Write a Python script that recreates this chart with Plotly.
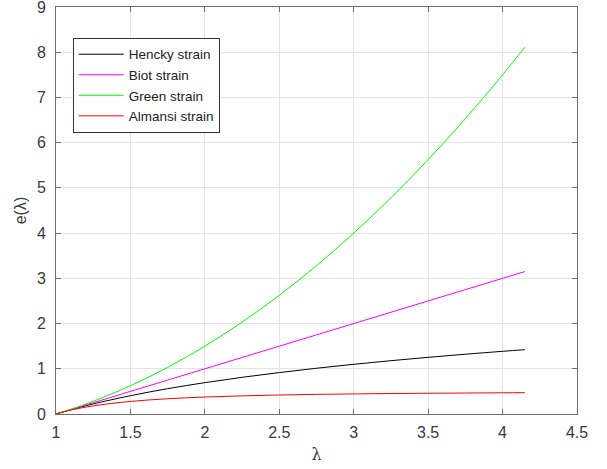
import plotly.graph_objects as go

lam = [1.0, 1.1, 1.25, 1.5, 1.75, 2.0, 2.25, 2.5, 2.75, 3.0, 3.25, 3.5, 3.75, 4.0, 4.15]
hencky = [0, 0.095, 0.223, 0.405, 0.560, 0.693, 0.811, 0.916, 1.012, 1.099, 1.179, 1.253, 1.322, 1.386, 1.423]
biot = [0, 0.10, 0.25, 0.50, 0.75, 1.00, 1.25, 1.50, 1.75, 2.00, 2.25, 2.50, 2.75, 3.00, 3.15]
green = [0, 0.105, 0.281, 0.625, 1.031, 1.500, 2.031, 2.625, 3.281, 4.000, 4.781, 5.625, 6.531, 7.500, 8.111]
almansi = [0, 0.087, 0.180, 0.278, 0.337, 0.375, 0.401, 0.420, 0.434, 0.444, 0.453, 0.459, 0.464, 0.469, 0.471]

names = ["Hencky strain", "Biot strain", "Green strain", "Almansi strain"]
colors = ["#000000", "#ff00ff", "#00ff00", "#ff0000"]
series = [hencky, biot, green, almansi]

x_ticks = [1, 1.5, 2, 2.5, 3, 3.5, 4, 4.5]
y_ticks = list(range(0, 10))

FONT = "Liberation Sans, Arial, sans-serif"
TXT = "#3a3a3a"

fig = go.Figure()
for n, c, s in zip(names, colors, series):
    fig.add_trace(go.Scatter(x=lam, y=s, mode="lines", name=n,
                             line=dict(color=c, width=1, shape="spline")))

axis_common = dict(showline=True, mirror="ticks", linecolor="#6e6e6e", linewidth=1,
                   ticks="inside", ticklen=5, tickcolor="#6e6e6e",
                   showgrid=True, gridcolor="#e4e4e4", gridwidth=1, zeroline=False,
                   automargin=False, ticklabeloverflow="allow",
                   tickfont=dict(family=FONT, size=16, color=TXT))

fig.update_xaxes(range=[1, 4.5], tickvals=x_ticks, ticktext=[f"{v:g}" for v in x_ticks],
                 ticklabelstandoff=4,
                 title=dict(text="λ", font=dict(family="DejaVu Serif, serif", size=16, color=TXT), standoff=8),
                 **axis_common)
fig.update_yaxes(range=[0, 9], tickvals=y_ticks, ticklabelstandoff=6,
                 title=dict(text="e(λ)", font=dict(family=FONT, size=16, color=TXT), standoff=6),
                 **axis_common)

fig.update_layout(
    width=607, height=469,
    margin=dict(l=56, r=30, t=7, b=55),
    plot_bgcolor="white", paper_bgcolor="white",
    legend=dict(x=0.032, y=0.924, xanchor="left", yanchor="top",
                bgcolor="white", bordercolor="#333333", borderwidth=1,
                font=dict(family=FONT, size=13.5, color="#222222"),
                itemwidth=45, tracegroupgap=0),
    showlegend=True,
)

fig.write_html("out.html", config={"displayModeBar": False},
               post_script="document.body.style.margin='0';")
